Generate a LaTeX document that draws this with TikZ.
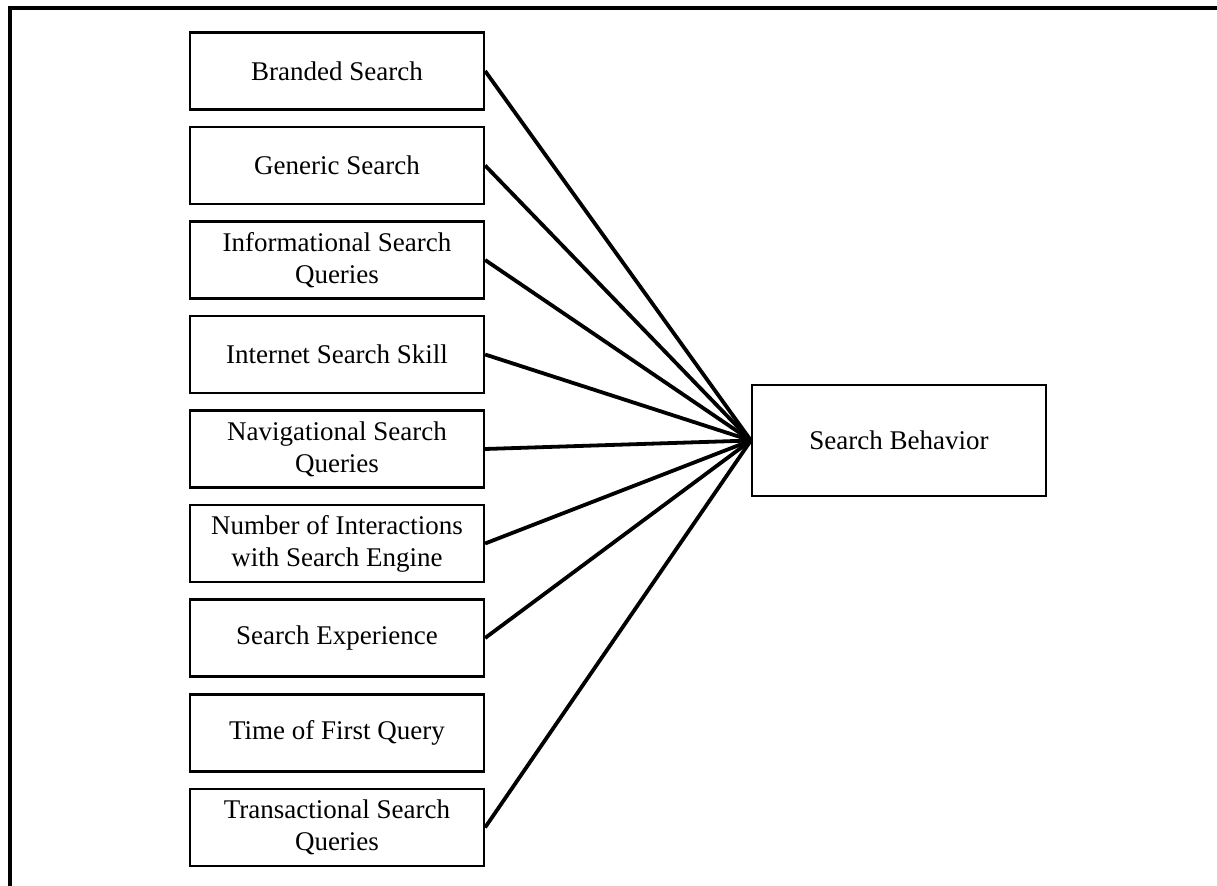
\documentclass[tikz,border=0pt]{standalone}
\usepackage{fontspec}
\setmainfont{Liberation Serif}
\begin{document}
\begin{tikzpicture}[x=0.5pt,y=-0.5pt,
  factor/.style={draw,line width=1.1pt,rectangle,minimum width=147pt,minimum height=38.5pt,
    inner sep=0pt,align=center,font=\fontsize{13.5}{16}\selectfont},
  outcome/.style={factor,minimum height=55.5pt},
  link/.style={line width=1.9pt},
  frame/.style={line width=1.8pt}]
\useasboundingbox (0,0) rectangle (1217,886);
% partial outer frame
\coordinate (ftr) at (1230,8);
\coordinate (fbl) at (10,900);
\draw[frame] (ftr) -| (fbl);
% factor boxes
\node[factor] (b1) at (337,71) {Branded Search};
\node[factor] (b2) at (337,165.5) {Generic Search};
\node[factor] (b3) at (337,260) {Informational Search\\Queries};
\node[factor] (b4) at (337,354.5) {Internet Search Skill};
\node[factor] (b5) at (337,449) {Navigational Search\\Queries};
\node[factor] (b6) at (337,543.5) {Number of Interactions\\with Search Engine};
\node[factor] (b7) at (337,638) {Search Experience};
\node[factor] (b8) at (337,733) {Time of First Query};
\node[factor] (b9) at (337,827.5) {Transactional Search\\Queries};
% outcome box
\node[outcome] (sb) at (899,440.5) {Search Behavior};
% connectors
\foreach \b in {b1,b2,b3,b4,b5,b6,b7,b9}
  \draw[link] (\b.east) -- (sb.west);
\end{tikzpicture}
\end{document}
